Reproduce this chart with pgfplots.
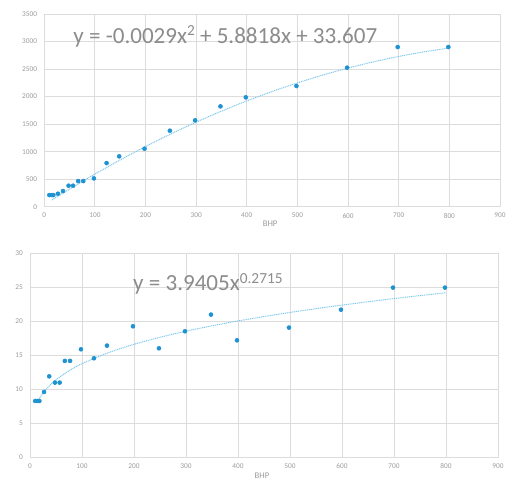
\documentclass[border=0pt]{standalone}
\usepackage{fontspec}
\setmainfont{Carlito}
\usepackage{pgfplots}
\pgfplotsset{compat=1.18}

\definecolor{ptblue}{RGB}{31,146,210}
\definecolor{trendblue}{RGB}{125,200,236}
\definecolor{gridgray}{RGB}{220,220,220}
\definecolor{ticktext}{RGB}{155,155,155}
\definecolor{eqtext}{RGB}{140,140,140}

\newcommand{\eqsup}[1]{\raisebox{5.8pt}{\fontsize{11.5}{12}\selectfont #1}}

\pgfplotsset{
  excelstyle/.style={
    scale only axis,
    axis line style={gridgray, line width=0.75pt},
    grid=major,
    major grid style={gridgray, line width=0.75pt},
    tick style={draw=none},
    xmin=0, xmax=900,
    xtick={0,100,...,900},
    tick label style={font=\fontsize{5.5}{6}\selectfont, text=ticktext, inner sep=0pt},
    /pgf/number format/assume math mode=true,
    /pgf/number format/1000 sep={},
    xticklabel shift=4.6pt,
    yticklabel shift=5.2pt,
    xlabel={BHP},
    xlabel style={font=\fontsize{6.5}{7}\selectfont, text=ticktext, inner sep=0pt,
      at={(axis description cs:0.5,0)}, anchor=center, xshift=-1.5pt},
  },
  pts/.style={only marks, mark=*, mark size=1.5pt, ptblue, mark options={draw=ptblue, fill=ptblue}},
  trend/.style={trendblue, line width=0.75pt, dash pattern=on 0.8pt off 0.6pt, smooth, no marks},
}

\begin{document}
\begin{tikzpicture}
\useasboundingbox (0,0) rectangle (385.5pt,360.75pt);

% upper chart: quadratic fit
\begin{axis}[excelstyle,
  at={(33.2pt,205.7pt)}, anchor=south west,
  width=341.8pt, height=144.5pt,
  ymin=0, ymax=3500, ytick={0,500,...,3500},
  xlabel style={yshift=-12.75pt},
]
\addplot[trend] coordinates {
  (15,121.2) (25,178.8) (50,320.4) (75,458.4) (100,592.8) (150,850.6)
  (200,1094.0) (250,1322.8) (300,1537.2) (350,1737.0) (400,1922.3)
  (450,2093.2) (500,2249.5) (550,2391.4) (600,2518.7) (650,2631.5)
  (700,2729.9) (750,2813.7) (800,2883.1)
};
\addplot[pts] coordinates {
  (10,212) (15,212) (18,212) (27,236) (37,285) (48,382) (57,382)
  (67,466) (77,466) (98,515) (123,793) (148,915) (198,1054) (248,1381)
  (298,1569) (348,1823) (398,1987) (498,2193) (598,2526) (698,2901) (798,2901)
};
\node[anchor=base west, inner sep=0pt, text=eqtext, font=\fontsize{17.3}{19}\selectfont]
  at (axis cs:57,2973) {y = -0.0029x\eqsup{2} + 5.8818x + 33.607};
\end{axis}

% lower chart: power fit
\begin{axis}[excelstyle,
  at={(22.5pt,17.8pt)}, anchor=south west,
  width=351pt, height=153pt,
  ymin=0, ymax=30, ytick={0,5,...,30},
  xlabel style={yshift=-14pt},
]
\addplot[trend] coordinates {
  (15,8.220) (20,8.887) (30,9.922) (40,10.728) (50,11.398) (75,12.724)
  (100,13.759) (150,15.359) (200,16.607) (250,17.644) (300,18.540)
  (350,19.33) (400,20.045) (450,20.697) (500,21.298) (550,21.855)
  (600,22.378) (650,22.869) (700,23.334) (750,23.777) (800,24.196)
};
\addplot[pts] coordinates {
  (10,8.28) (15,8.28) (18,8.28) (27,9.6) (37,11.9) (48,10.98) (57,10.98)
  (67,14.17) (77,14.17) (98,15.88) (123,14.56) (148,16.42) (198,19.26)
  (248,16.03) (298,18.53) (348,20.98) (398,17.2) (498,19.07) (598,21.7)
  (698,24.95) (798,24.95)
};
\node[anchor=base west, inner sep=0pt, text=eqtext, font=\fontsize{17.3}{19}\selectfont]
  at (axis cs:198,24.46) {y = 3.9405x\eqsup{0.2715}};
\end{axis}
\end{tikzpicture}
\end{document}
